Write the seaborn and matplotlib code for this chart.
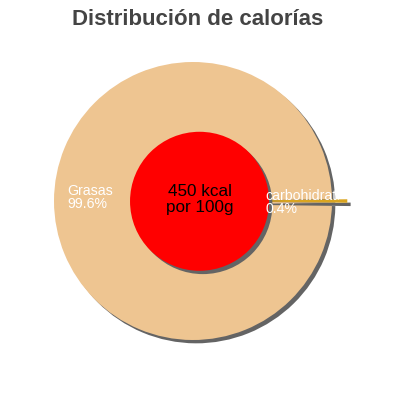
import matplotlib
matplotlib.use("Agg")
import matplotlib.pyplot as plt
import matplotlib.patheffects as pe
from matplotlib.patches import Circle, Rectangle
import seaborn as sns

# chart data
nutrients = ["Grasas", "carbohidratos"]
shares = [99.6, 0.4]
slice_colors = ["#EEC591", "#DAA520"]
explode = [0.0, 0.11]
kcal = 450
title = "Distribución de calorías"

sns.set_theme(style="white")
plt.rcParams["font.family"] = ["Liberation Sans", "DejaVu Sans"]

fig = plt.figure(figsize=(4, 4), dpi=100)
ax = fig.add_axes([0, 0, 1, 1])

shadow = [pe.SimplePatchShadow(offset=(2.4, -2.4), shadow_rgbFace="#646464", alpha=1.0), pe.Normal()]

# small slice centred on the right hand side
start = 360 * shares[1] / 100 / 2
wedges, texts = ax.pie(
    shares,
    labels=[f"{n}\n{v}%" for n, v in zip(nutrients, shares)],
    colors=slice_colors,
    explode=explode,
    startangle=start,
    radius=1.0,
    wedgeprops=dict(linewidth=0),
)
for w in wedges:
    w.set_path_effects(shadow)
wedges[1].set_zorder(wedges[0].get_zorder() + 0.1)

# label placement, left aligned like the original renderer
label_pos = [(-0.906, 0.025), (0.523, -0.012)]
clip = Rectangle((-2, -2), 3.05, 4, transform=ax.transData)
for t, p in zip(texts, label_pos):
    t.set_position(p)
    t.set_ha("left")
    t.set_va("center")
    t.set_color("white")
    t.set_fontsize(10.2)
    t.set_linespacing(0.95)
    t.set_clip_path(clip)
    t.set_clip_on(True)
    t.set_zorder(5)

# centre disc with total energy
centre = Circle((0.047, -0.002), 0.5, facecolor="#FF0000", edgecolor="none", zorder=4)
centre.set_path_effects(shadow)
ax.add_patch(centre)
ax.text(0.047, 0.01, f"{kcal} kcal\npor 100g", ha="center", va="center",
        fontsize=12.3, color="black", linespacing=1.1, zorder=6)

ax.set_xlim(-193 / 139, 207 / 139)
ax.set_ylim(-199 / 139, 201 / 139)
ax.set_aspect("equal", adjustable="box")
ax.axis("off")

fig.text(0.494, 1 - 25 / 400, title, ha="center", va="baseline",
         fontsize=16, fontweight="bold", color="#444444")

fig.savefig("out.png", dpi=100)
